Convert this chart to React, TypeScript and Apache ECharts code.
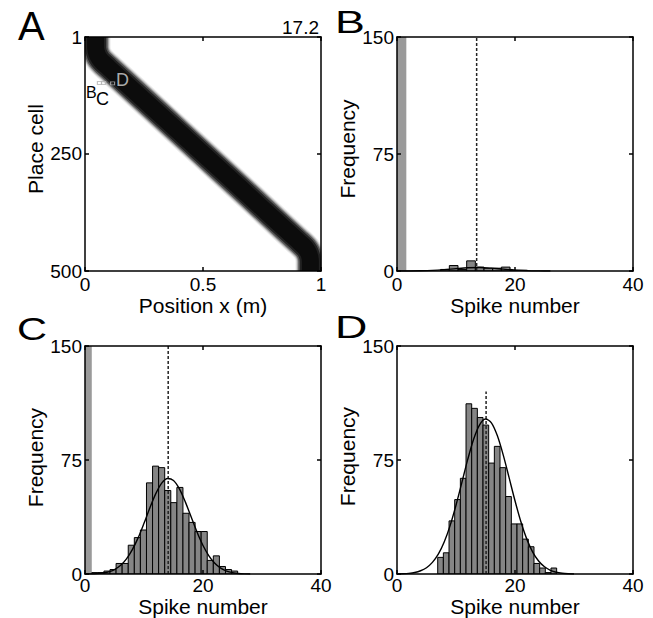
import React, { useEffect, useRef } from "react";
import * as echarts from "echarts";

const FONT = "'Liberation Sans', Arial, Helvetica, sans-serif";

// ---------- Panel A : place-cell activity band ----------
const positionTicks = [0, 0.5, 1];
const placeCellTicks = [1, 250, 500];
// centre line of the dark band (position x, place cell)
const bandPosition = [0.045, 0.045, 0.047, 0.053, 0.0627, 0.0753, 0.1, 0.2, 0.3, 0.4, 0.5, 0.6, 0.7, 0.8, 0.9, 0.9247, 0.9373, 0.947, 0.953, 0.955, 0.955];
const bandCell = [1, 20.5, 30.3, 39.6, 48.1, 55.1, 66.4, 112.3, 158.2, 204.1, 250, 296, 342, 388.7, 434.6, 445.9, 452.9, 461.4, 470.7, 480.5, 500];
const markerPosition = [0.061, 0.079, 0.117];
const markerCell = [99, 99, 100];
const panelAValue = "17.2";

// ---------- Panels B-D : spike-count histograms ----------
const spikeTicks = [0, 20, 40];
const frequencyTicks = [0, 75, 150];

// Panel B
const bSilentBin = [0, 1.58, 150];
const bBinStart = 7.4;
const bBinWidth = 1.47;
const bCounts = [1, 3.5, 1, 6.5, 2.5, 1.8, 1.8, 2.5, 0.5, 0.5];
const bMean = 13.5;
const bMeanTop = 150;
const bFitX = [0, 2, 4, 6, 8, 10, 12, 14, 16, 18, 20, 22, 24, 26];
const bFitY = [0.01, 0.04, 0.13, 0.38, 0.86, 1.5, 2.05, 2.2, 1.81, 1.17, 0.59, 0.23, 0.07, 0.02];

// Panel C
const cSilentBin = [0, 1.15, 150];
const cBinStart = 1.15;
const cBinWidth = 1.03;
const cCounts = [1, 1, 2, 3, 7, 7, 19, 24, 29, 60, 71, 70, 55, 47, 57, 40, 34, 28, 28, 9, 12, 5, 3, 2];
const cMean = 14.1;
const cMeanTop = 150;
const cFitX = [0, 1, 2, 3, 4, 5, 6, 7, 8, 9, 10, 11, 12, 13, 14, 15, 16, 17, 18, 19, 20, 21, 22, 23, 24, 25, 26, 27, 28];
const cFitY = [0.05, 0.12, 0.3, 0.7, 1.5, 3.0, 5.6, 9.8, 15.9, 23.8, 33.4, 43.6, 52.9, 59.8, 62.9, 61.6, 56.1, 47.5, 37.5, 27.5, 18.8, 12.0, 7.1, 3.9, 2.0, 0.95, 0.42, 0.17, 0.07];

// Panel D
const dBinStart = 6.9;
const dBinWidth = 0.96;
const dCounts = [11, 14, 35, 49, 63, 112, 109, 103, 98, 73, 84, 70, 51, 33, 33, 23, 18, 7, 4, 1, 4];
const dMean = 15.1;
const dMeanTop = 120;
const dFitX = [0, 1, 2, 3, 4, 5, 6, 7, 8, 9, 10, 11, 12, 13, 14, 15, 16, 17, 18, 19, 20, 21, 22, 23, 24, 25, 26, 27, 28, 29, 30];
const dFitY = [0.08, 0.2, 0.48, 1.05, 2.2, 4.2, 7.7, 13.1, 21.1, 31.9, 45.3, 60.3, 75.6, 88.9, 98.2, 102, 99.5, 91.1, 78.4, 63.4, 48.2, 34.4, 23.0, 14.5, 8.6, 4.8, 2.5, 1.2, 0.56, 0.24, 0.1];

const grids = [
  { left: 85, top: 37, width: 236, height: 234 },
  { left: 397, top: 37, width: 236, height: 234 },
  { left: 85, top: 346, width: 236, height: 235 },
  { left: 397, top: 346, width: 236, height: 235 },
];

const bins = (start: number, width: number, counts: number[]) =>
  counts.map((c, i) => [start + i * width, start + (i + 1) * width, c]);

const barRenderer = (fill: string, stroke: string, lw: number) => (_p: any, api: any) => {
  const a = api.coord([api.value(0), api.value(2)]);
  const b = api.coord([api.value(1), 0]);
  return {
    type: "rect",
    shape: { x: a[0], y: a[1], width: b[0] - a[0], height: b[1] - a[1] },
    style: { fill, stroke, lineWidth: lw },
  };
};

const lineStyleAxis = { color: "#000", width: 1.5 };

function makeX(gi: number, min: number, max: number, interval: number, name: string, labelMargin: number, nameGap: number) {
  return [
    {
      type: "value", gridIndex: gi, position: "bottom", min, max, interval, z: 10,
      axisLine: { show: true, onZero: false, lineStyle: lineStyleAxis },
      axisTick: { show: true, inside: true, length: 4, lineStyle: lineStyleAxis },
      axisLabel: { show: true, color: "#000", fontFamily: FONT, fontSize: 19, margin: labelMargin },
      splitLine: { show: false },
      name, nameLocation: "middle", nameGap,
      nameTextStyle: { color: "#000", fontFamily: FONT, fontSize: 21 },
    },
    {
      type: "value", gridIndex: gi, position: "top", min, max, interval, z: 10,
      axisLine: { show: true, onZero: false, lineStyle: lineStyleAxis },
      axisTick: { show: true, inside: true, length: 4, lineStyle: lineStyleAxis },
      axisLabel: { show: false },
      splitLine: { show: false },
    },
  ];
}

function makeY(gi: number, min: number, max: number, ticks: number[], inverse: boolean, name: string, lift: number) {
  const common = {
    type: "value", gridIndex: gi, min, max, inverse, z: 10,
    splitLine: { show: false },
  };
  return [
    {
      ...common, position: "left",
      axisLine: { show: true, onZero: false, lineStyle: lineStyleAxis },
      axisTick: { show: true, inside: true, length: 4, lineStyle: lineStyleAxis, customValues: ticks },
      axisLabel: { show: true, color: "#000", fontFamily: FONT, fontSize: 19, margin: 3, customValues: ticks },
      name, nameLocation: "middle", nameGap: 34,
      nameTextStyle: { color: "#000", fontFamily: FONT, fontSize: 21, padding: [0, 0, 0, lift] },
    },
    {
      ...common, position: "right",
      axisLine: { show: true, onZero: false, lineStyle: lineStyleAxis },
      axisTick: { show: true, inside: true, length: 4, lineStyle: lineStyleAxis, customValues: ticks },
      axisLabel: { show: false },
    },
  ];
}

function histSeries(gi: number, silent: number[] | null, start: number, width: number, counts: number[], mean: number, meanTop: number, fx: number[], fy: number[]) {
  const ax = { xAxisIndex: 2 * gi, yAxisIndex: 2 * gi };
  const out: any[] = [];
  if (silent) {
    out.push({
      type: "custom", coordinateSystem: "cartesian2d", ...ax, clip: true, silent: true,
      renderItem: barRenderer("#9a9a9a", "none", 0), encode: { x: [0, 1], y: 2 },
      data: [silent],
    });
  }
  out.push({
    type: "custom", coordinateSystem: "cartesian2d", ...ax, clip: true, silent: true,
    renderItem: barRenderer("#858585", "#000", 1), encode: { x: [0, 1], y: 2 },
    data: bins(start, width, counts),
  });
  out.push({
    type: "line", ...ax, symbol: "none", silent: true,
    data: [[mean, 0], [mean, meanTop]],
    lineStyle: { color: "#222", width: 1.5, type: [3, 2] },
  });
  out.push({
    type: "line", ...ax, symbol: "none", silent: true, smooth: 0.3,
    data: fx.map((x, i) => [x, fy[i]]),
    lineStyle: { color: "#000", width: 1.4 },
  });
  return out;
}

const mask = (x: number, y: number, width: number, height: number) => ({
  type: "rect", z: 5, silent: true,
  shape: { x, y, width, height },
  style: { fill: "#fff" },
});

const label = (text: string, x: number, y: number, fontSize: number, fill: string, scaleX = 1, align = "left") => ({
  type: "text", z: 20, x, y, scaleX, silent: true,
  style: { text, fontSize, fontFamily: FONT, fill, align, verticalAlign: "middle" },
});

export default function App() {
  const ref = useRef<HTMLDivElement>(null);
  useEffect(() => {
    if (!ref.current) return;
    const chart = echarts.init(ref.current, null, { renderer: "svg" });
    const bandData = bandPosition.map((x, i) => [x, bandCell[i]]);
    const bandLayer = (w: number, color: string) => ({
      type: "line", xAxisIndex: 0, yAxisIndex: 0, symbol: "none", silent: true,
      smooth: 0.3, clip: true, data: bandData,
      lineStyle: { color, width: w, cap: "butt", join: "round" },
    });
    const option: any = {
      animation: false,
      backgroundColor: "#fff",
      grid: grids,
      xAxis: [
        ...makeX(0, 0, 1, 0.5, "Position x (m)", 4, 18),
        ...makeX(1, 0, 40, 20, "Spike number", 4, 18),
        ...makeX(2, 0, 40, 20, "Spike number", 2, 17),
        ...makeX(3, 0, 40, 20, "Spike number", 2, 16),
      ],
      yAxis: [
        ...makeY(0, 1, 500, placeCellTicks, true, "Place cell", 10),
        ...makeY(1, 0, 150, frequencyTicks, false, "Frequency", 10),
        ...makeY(2, 0, 150, frequencyTicks, false, "Frequency", 5),
        ...makeY(3, 0, 150, frequencyTicks, false, "Frequency", 7),
      ],
      series: [
        bandLayer(30, "#eeeeee"),
        bandLayer(28, "#cccccc"),
        bandLayer(26, "#949494"),
        bandLayer(24, "#555555"),
        bandLayer(21, "#222222"),
        bandLayer(17, "#0c0c0c"),
        {
          type: "scatter", xAxisIndex: 0, yAxisIndex: 0, silent: true, z: 4,
          symbol: "rect", symbolSize: [4, 3],
          data: markerPosition.map((x, i) => [x, markerCell[i]]),
          itemStyle: { color: "rgba(0,0,0,0)", borderColor: "#b5b5b5", borderWidth: 1 },
        },
        ...histSeries(1, bSilentBin, bBinStart, bBinWidth, bCounts, bMean, bMeanTop, bFitX, bFitY),
        ...histSeries(2, cSilentBin, cBinStart, cBinWidth, cCounts, cMean, cMeanTop, cFitX, cFitY),
        ...histSeries(3, null, dBinStart, dBinWidth, dCounts, dMean, dMeanTop, dFitX, dFitY),
      ],
      graphic: [
        mask(55, 15, 29.5, 280),
        mask(321.5, 15, 20, 280),
        mask(55, 15, 286, 21.5),
        mask(55, 271.5, 286, 20),
        label("A", 18, 26, 40, "#000"),
        label("B", 335, 22, 32, "#000", 1.4),
        label("C", 17, 329, 32, "#000", 1.3),
        label("D", 335, 327, 32, "#000", 1.4),
        label(panelAValue, 319, 27, 19, "#000", 1, "right"),
        label("B", 86, 92, 16, "#000"),
        label("C", 96, 98.5, 18, "#000"),
        label("D", 116, 80, 18, "#aaa"),
      ],
    };
    chart.setOption(option);
    return () => chart.dispose();
  }, []);
  return (
    <div
      ref={ref}
      style={{ position: "fixed", left: 0, top: 0, width: 653, height: 618, background: "#fff" }}
    />
  );
}
